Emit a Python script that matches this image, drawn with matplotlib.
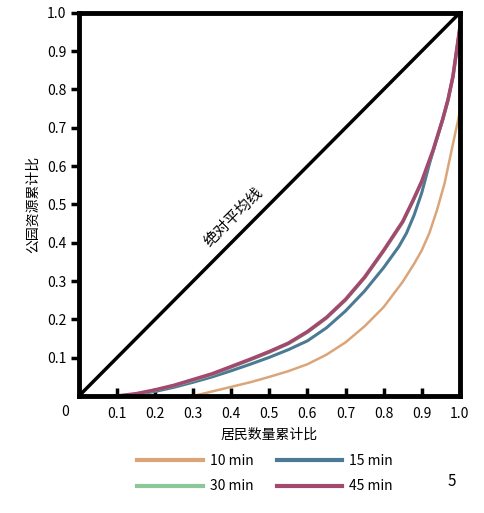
import numpy as np
import matplotlib.pyplot as plt

plt.rcParams['font.family'] = ['Noto Sans CJK SC', 'DejaVu Sans']

# Lorenz-style curves
x10 = [0.30, 0.35, 0.40, 0.45, 0.50, 0.55, 0.60, 0.65, 0.70, 0.75, 0.80, 0.85, 0.88, 0.90, 0.92, 0.94, 0.96, 0.975, 0.99, 1.00]
y10 = [0.00, 0.012, 0.024, 0.036, 0.050, 0.065, 0.083, 0.108, 0.140, 0.182, 0.232, 0.298, 0.345, 0.380, 0.425, 0.485, 0.555, 0.625, 0.695, 0.740]

x15 = [0.10, 0.15, 0.20, 0.25, 0.30, 0.35, 0.40, 0.45, 0.50, 0.55, 0.60, 0.65, 0.70, 0.75, 0.80, 0.84, 0.86, 0.88, 0.90, 0.92, 0.94, 0.955, 0.969, 0.982, 0.99, 1.00]
y15 = [0.00, 0.004, 0.012, 0.023, 0.036, 0.050, 0.066, 0.083, 0.101, 0.121, 0.144, 0.178, 0.222, 0.274, 0.335, 0.390, 0.425, 0.472, 0.530, 0.605, 0.672, 0.722, 0.773, 0.834, 0.890, 0.960]

x30 = [0.10, 0.15, 0.20, 0.25, 0.30, 0.35, 0.40, 0.45, 0.50, 0.55, 0.60, 0.65, 0.70, 0.75, 0.80, 0.85, 0.877, 0.90, 0.93, 0.955, 0.969, 0.982, 0.99, 1.00]
y30 = [0.00, 0.005, 0.015, 0.027, 0.041, 0.056, 0.075, 0.094, 0.114, 0.136, 0.166, 0.203, 0.250, 0.308, 0.378, 0.453, 0.508, 0.558, 0.640, 0.720, 0.772, 0.832, 0.888, 0.958]

x45 = [0.10, 0.15, 0.20, 0.25, 0.30, 0.35, 0.40, 0.45, 0.50, 0.55, 0.60, 0.65, 0.70, 0.75, 0.80, 0.85, 0.877, 0.90, 0.93, 0.955, 0.969, 0.982, 0.99, 1.00]
y45 = [0.00, 0.006, 0.016, 0.028, 0.043, 0.058, 0.077, 0.096, 0.116, 0.138, 0.168, 0.205, 0.252, 0.310, 0.380, 0.455, 0.510, 0.560, 0.642, 0.722, 0.773, 0.834, 0.890, 0.960]

labels = ["10 min", "15 min", "30 min", "45 min"]
colors = ["#dba57a", "#4a7a94", "#8cc79a", "#a24a6e"]
ticks = [0.1, 0.2, 0.3, 0.4, 0.5, 0.6, 0.7, 0.8, 0.9, 1.0]
tick_labels = ["0.1", "0.2", "0.3", "0.4", "0.5", "0.6", "0.7", "0.8", "0.9", "1.0"]

fig = plt.figure(figsize=(4.84, 5.13), dpi=100)
ax = fig.add_axes([0.163, 0.228, 0.787, 0.747])

ax.plot([0, 1], [0, 1], color="black", lw=2.5, zorder=3)
ax.text(0.405, 0.468, "绝对平均线", rotation=45, ha="center", va="center", fontsize=11)

lines = {}
for xs, ys, lab, c, lw in zip([x10, x15, x30, x45], [y10, y15, y30, y45], labels, colors, [1.8, 2.2, 2.2, 2.6]):
  l, = ax.plot(xs, ys, color=c, lw=lw, label=lab, solid_joinstyle="round")
  lines[lab] = l

ax.set_xlim(0, 1)
ax.set_ylim(0, 1)
ax.set_xticks(ticks)
ax.set_xticklabels(tick_labels)
ax.set_yticks(ticks)
ax.set_yticklabels(tick_labels)
ax.tick_params(axis="x", direction="in", length=6, width=2.5, labelsize=10, pad=8)
ax.tick_params(axis="y", direction="out", length=6, width=2.5, labelsize=10, pad=3)
for s in ax.spines.values():
  s.set_linewidth(3.5)
  s.set_zorder(5)
ax.text(-0.037, -0.042, "0", transform=ax.transAxes, ha="center", va="center", fontsize=10)

ax.set_xlabel("居民数量累计比", fontsize=10, labelpad=5)
ax.set_ylabel("公园资源累计比", fontsize=10, labelpad=5)

# row-major order like the original: 10/15 on top, 30/45 below
order = ["10 min", "30 min", "15 min", "45 min"]
leg = fig.legend(handles=[lines[k] for k in order], labels=order, ncol=2, loc="center",
                 bbox_to_anchor=(0.548, 0.077), frameon=False, fontsize=10, handlelength=4.7,
                 handletextpad=0.5, columnspacing=1.7, labelspacing=0.85)
for h in leg.get_lines():
  h.set_linewidth(3)

fig.text(0.934, 0.062, "5", fontsize=11, ha="center", va="center")

plt.savefig("out.png", dpi=100)
